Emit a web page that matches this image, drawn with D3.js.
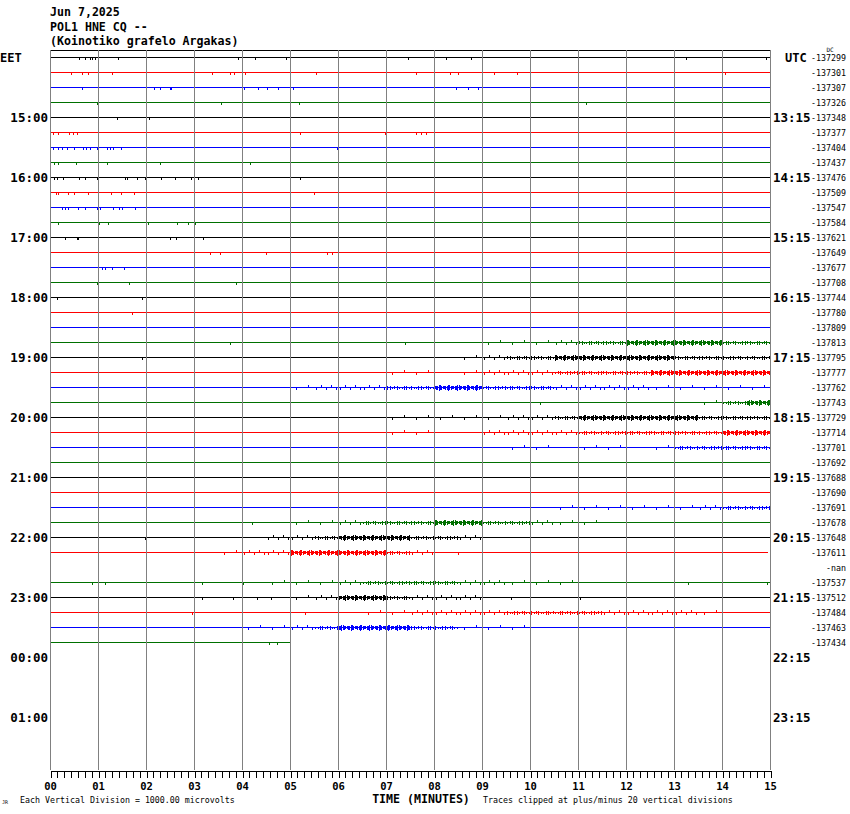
<!DOCTYPE html>
<html><head><meta charset="utf-8">
<script src="https://cdn.jsdelivr.net/npm/d3@7"></script>
<style>html,body{margin:0;padding:0;background:#fff;}svg{display:block;}</style>
</head><body>
<script>
// ---------- DATA ----------
const titleLines = ["Jun 7,2025", "POL1 HNE CQ --", "(Koinotiko grafelo Argakas)"];
const minuteLabels = ["00","01","02","03","04","05","06","07","08","09","10","11","12","13","14","15"];
const leftHourLabels = ["15:00","16:00","17:00","18:00","19:00","20:00","21:00","22:00","23:00","00:00","01:00"];
const rightHourLabels = ["13:15","14:15","15:15","16:15","17:15","18:15","19:15","20:15","21:15","22:15","23:15"];
const rowValueLabels = ["-137299","-137301","-137307","-137326","-137348","-137377","-137404","-137437",
  "-137476","-137509","-137547","-137584","-137621","-137649","-137677","-137708",
  "-137744","-137780","-137809","-137813","-137795","-137777","-137762","-137743",
  "-137729","-137714","-137701","-137692","-137688","-137690","-137691","-137678",
  "-137648","-137611","-nan","-137537","-137512","-137484","-137463","-137434"];
// minute at which each trace ends (null = no data)
const traceEnd = [15,15,15,15,15,15,15,15,15,15,15,15,15,15,15,15,15,15,15,15,
  15,15,15,15,15,15,15,15,15,15,15,15,15,14.95,null,15,15,15,15,5];
// isolated spikes (minutes) per row
const rowSpikes = [
  [0.61,0.73,0.83,0.88,0.93,1.42,3.91,4.27,4.91,7.46,8.26,8.77,13.26,14.91],
  [0.44,0.66,0.80,1.30,3.38,3.75,3.83,4.06,5.55,7.63,8.33,8.50,9.25,9.72,14.06],
  [0.67,2.17,2.30,2.50,2.53,2.99,4.04,4.34,4.52,4.74,5.07,8.45,8.70,8.91],
  [0.97,3.57,5.18,11.17],
  [1.39,2.06],
  [0.06,0.16,0.40,0.47,0.56,5.21,6.97,7.63,7.73,7.83],
  [0.06,0.16,0.24,0.35,0.49,0.69,0.76,0.83,0.97,1.19,1.24,1.31,1.47,5.97],
  [0.08,0.17,0.54,1.19,2.29,4.17],
  [0.08,0.15,0.27,0.61,0.73,0.98,1.56,1.61,1.81,1.97,2.31,2.60,2.94,3.09,5.21],
  [0.13,0.17,0.37,0.49,0.79,1.28,1.47,1.76,5.51],
  [0.25,0.32,0.37,0.58,0.73,0.98,1.05,1.31,1.44,1.50,1.78],
  [0.17,1.03,1.21,2.04,2.65,2.87,3.02],
  [0.32,0.56,0.59,2.50,2.62,3.18],
  [3.33,3.55,4.50,5.78,5.88],
  [1.08,1.15,1.29,1.55],
  [0.97,1.65,3.88],
  [0.15,1.92],
  [1.70],
  [],
  [3.75,7.40],
  [1.92],
  [], [], [10.21], [], [], [], [], [], [], [],
  [4.21],
  [1.98],
  [8.50],
  [],
  [0.88,1.15,3.17,4.02,13.30,14.94],
  [3.17,3.81,4.31,4.60,9.60,11.04],
  [2.96,5.31],
  [],
  [4.56,4.73]
];
// activity level (0-4) per 30-second bin, 30 bins per row
const Z = n => "0".repeat(n);
const rowActivity = [
  Z(30),Z(30),Z(30),Z(30),Z(30),Z(30),Z(30),Z(30),Z(30),Z(30),
  Z(30),Z(30),Z(30),Z(30),Z(30),Z(30),Z(30),Z(30),Z(30),
  Z(18)+"111233444433",
  Z(17)+"1233444443333",
  Z(14)+"1101222333344444",
  Z(10)+"12223344333222211111",
  Z(27)+"134",
  Z(14)+"1111122344444333",
  Z(14)+"1100222233333344",
  Z(19)+"11011013333",
  Z(30), Z(30), Z(30),
  Z(21)+"111111233",
  Z(10)+"1123334433211"+Z(7),
  Z(9)+"223444332"+Z(12),
  Z(7)+"122444432"+Z(14),
  Z(30),
  Z(9)+"1112333322111"+Z(8),
  Z(10)+"12443222"+Z(12),
  Z(13)+"112222333322221"+Z(2),
  Z(8)+"112344433111"+Z(10),
  Z(30)
];
const rowColors = ["#000000","#ff0000","#0000ff","#007000"];

// ---------- CHART ----------
const W = 850, H = 814;
const svg = d3.select("body").append("svg").attr("width", W).attr("height", H)
  .style("font-family", "'DejaVu Sans Mono', monospace");
svg.append("rect").attr("width", W).attr("height", H).attr("fill", "#fff");

const x = d3.scaleLinear().domain([0, 15]).range([50, 770]);
const y = d3.scaleLinear().domain([0, 1]).range([57, 72]);
const px = v => Math.round(x(v)) + 0.5;
const py = i => Math.round(y(i)) + 0.5;

// title
svg.selectAll("text.title").data(titleLines).join("text").attr("class", "title")
  .attr("x", 50).attr("y", (d, i) => 16 + i * 14.5)
  .attr("font-size", 11.6).attr("font-weight", "bold").text(d => d);

// top frame line
svg.append("line").attr("x1", x(0)).attr("x2", x(15) + 1).attr("y1", 50.5).attr("y2", 50.5)
  .attr("stroke", "#000").attr("stroke-width", 1);

// traces
const rows = d3.range(rowValueLabels.length);
const tr = svg.append("g").attr("shape-rendering", "crispEdges");
const counts = [0, 2, 5, 10, 18];
const up3 = [0, 1, 0, 1, 1, 0, 1], dn3 = [1, 2, 1, 1, 2, 1, 2];
const up4 = [1, 1, 2, 1, 1, 1, 2], dn4 = [2, 1, 2, 2, 1, 2, 3];
rows.forEach(i => {
  if (traceEnd[i] == null) return;
  const c = rowColors[i % 4];
  const yy = py(i);
  tr.append("line").attr("x1", x(0)).attr("x2", x(traceEnd[i])).attr("y1", yy).attr("y2", yy)
    .attr("stroke", c).attr("stroke-width", 1);
  let d = "";
  rowSpikes[i].forEach(m => {
    const xx = px(m);
    d += `M${xx},${yy - 0.5}V${yy + 2.5}`;
  });
  const act = rowActivity[i];
  for (let b = 0; b < act.length; b++) {
    const L = +act[b];
    if (!L) continue;
    const n = counts[L];
    const x0 = x(b * 0.5), x1 = x((b + 1) * 0.5);
    for (let j = 0; j < n; j++) {
      const xx = Math.round(x0 + (j + 0.5) * (x1 - x0) / n) + 0.5;
      if (xx > x(traceEnd[i])) continue;
      const k = (j * 3 + b * 5 + i) % 7;
      if (L <= 2) {
        if (j % 2 === 0) d += `M${xx},${yy - 0.5}V${yy + 2.5}`;
        else d += `M${xx},${yy - 2.5}V${yy + 0.5}`;
      } else if (L === 3) {
        d += `M${xx},${yy - 0.5 - up3[k]}V${yy + 0.5 + dn3[k]}`;
      } else {
        d += `M${xx},${yy - 0.5 - up4[k]}V${yy + 0.5 + dn4[k]}`;
      }
    }
  }
  if (d) tr.append("path").attr("d", d).attr("stroke", c).attr("stroke-width", 1).attr("fill", "none");
});

// vertical minute grid
svg.append("g").attr("shape-rendering", "crispEdges").selectAll("line")
  .data(d3.range(0, 16)).join("line")
  .attr("x1", d => px(d)).attr("x2", d => px(d)).attr("y1", 50).attr("y2", 770)
  .attr("stroke", "#808080").attr("stroke-width", 1);

// bottom axis
const minor = [];
for (let m = 0; m < 15; m++) for (let k = 1; k < 7; k++) minor.push(m + k / 7);
const axisG = svg.append("g").attr("transform", "translate(0,770.5)").attr("shape-rendering", "crispEdges");
axisG.call(d3.axisBottom(x).tickValues(d3.range(0, 16)).tickSize(7).tickSizeOuter(0)
  .tickFormat(d => minuteLabels[d]));
axisG.append("g").call(d3.axisBottom(x).tickValues(minor).tickSize(7).tickSizeOuter(0).tickFormat(""))
  .select(".domain").remove();
axisG.selectAll(".tick line").attr("stroke", "#000")
  .attr("transform", "translate(0.5,0)");
axisG.select(".domain").attr("stroke", "#000");
axisG.selectAll(".tick text").attr("font-family", "'DejaVu Sans Mono', monospace")
  .attr("font-size", 10.5).attr("font-weight", "bold").attr("fill", "#000").attr("y", 12);

// left labels
svg.append("text").attr("x", 0).attr("y", y(0) + 1).attr("dominant-baseline", "middle")
  .attr("font-size", 12).attr("font-weight", "bold").text("EET");
svg.selectAll("text.lh").data(leftHourLabels).join("text").attr("class", "lh")
  .attr("x", 48).attr("y", (d, i) => y(4 + i * 4) + 1.5).attr("text-anchor", "end")
  .attr("dominant-baseline", "middle").attr("font-size", 12.5).attr("font-weight", "bold").text(d => d);

// right labels
svg.append("text").attr("x", 785).attr("y", y(0) + 1).attr("dominant-baseline", "middle")
  .attr("font-size", 12).attr("font-weight", "bold").text("UTC");
svg.selectAll("text.rh").data(rightHourLabels).join("text").attr("class", "rh")
  .attr("x", 773).attr("y", (d, i) => y(4 + i * 4) + 1.5)
  .attr("dominant-baseline", "middle").attr("font-size", 12.5).attr("font-weight", "bold").text(d => d);
svg.selectAll("text.rv").data(rowValueLabels).join("text").attr("class", "rv")
  .attr("x", 846).attr("y", (d, i) => y(i) + 1).attr("text-anchor", "end")
  .attr("dominant-baseline", "middle").attr("font-size", 8.3).text(d => d);
svg.append("text").attr("x", 830).attr("y", 52).attr("text-anchor", "middle")
  .attr("font-size", 6).text("DC");

// footer texts
svg.append("text").attr("x", 421).attr("y", 803).attr("text-anchor", "middle")
  .attr("font-size", 11.6).attr("font-weight", "bold").text("TIME (MINUTES)");
svg.append("text").attr("x", 20).attr("y", 803).attr("font-size", 8.3)
  .text("Each Vertical Division = 1000.00 microvolts");
svg.append("text").attr("x", 483).attr("y", 803).attr("font-size", 8.3)
  .text("Traces clipped at plus/minus 20 vertical divisions");
svg.append("text").attr("x", 2).attr("y", 804).attr("font-size", 5).text("JR");
</script>
</body></html>
